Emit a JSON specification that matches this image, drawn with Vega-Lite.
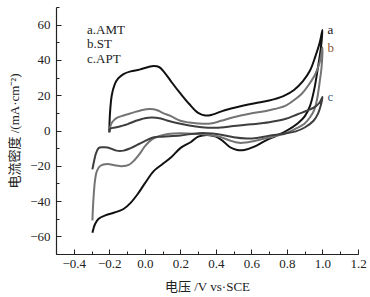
{
  "$schema": "https://vega.github.io/schema/vega-lite/v6.json",
  "width": 302,
  "height": 247,
  "autosize": {"type": "none"},
  "padding": {"left": 56, "top": 7, "right": 12, "bottom": 43},
  "background": "white",
  "config": {
    "view": {"stroke": null},
    "font": "Liberation Serif, Noto Sans CJK SC",
    "axis": {
      "domainColor": "#222",
      "domainWidth": 1.2,
      "tickColor": "#222",
      "tickWidth": 1,
      "grid": false,
      "labelFont": "Liberation Serif",
      "labelFontSize": 13,
      "labelColor": "#222",
      "labelOverlap": false,
      "labelFlush": false,
      "titleFont": "Liberation Serif, Noto Sans CJK SC",
      "titleFontSize": 13,
      "titleFontWeight": "normal",
      "titleColor": "#222"
    }
  },
  "data": {
    "values": [
      {"s": "a.AMT", "o": 1, "v": -0.2, "j": -1},
      {"s": "a.AMT", "o": 2, "v": -0.196, "j": 10},
      {"s": "a.AMT", "o": 3, "v": -0.186, "j": 20},
      {"s": "a.AMT", "o": 4, "v": -0.17, "j": 26},
      {"s": "a.AMT", "o": 5, "v": -0.15, "j": 29.5},
      {"s": "a.AMT", "o": 6, "v": -0.12, "j": 32},
      {"s": "a.AMT", "o": 7, "v": -0.08, "j": 33.5},
      {"s": "a.AMT", "o": 8, "v": -0.03, "j": 34.5},
      {"s": "a.AMT", "o": 9, "v": 0.02, "j": 36},
      {"s": "a.AMT", "o": 10, "v": 0.05, "j": 36.5},
      {"s": "a.AMT", "o": 11, "v": 0.08, "j": 36},
      {"s": "a.AMT", "o": 12, "v": 0.11, "j": 33},
      {"s": "a.AMT", "o": 13, "v": 0.15, "j": 27.5},
      {"s": "a.AMT", "o": 14, "v": 0.2, "j": 21},
      {"s": "a.AMT", "o": 15, "v": 0.25, "j": 15},
      {"s": "a.AMT", "o": 16, "v": 0.3, "j": 10},
      {"s": "a.AMT", "o": 17, "v": 0.34, "j": 8.5},
      {"s": "a.AMT", "o": 18, "v": 0.38, "j": 9},
      {"s": "a.AMT", "o": 19, "v": 0.45, "j": 11.5},
      {"s": "a.AMT", "o": 20, "v": 0.55, "j": 14},
      {"s": "a.AMT", "o": 21, "v": 0.62, "j": 15.5},
      {"s": "a.AMT", "o": 22, "v": 0.7, "j": 17},
      {"s": "a.AMT", "o": 23, "v": 0.78, "j": 19.5},
      {"s": "a.AMT", "o": 24, "v": 0.84, "j": 23},
      {"s": "a.AMT", "o": 25, "v": 0.89, "j": 28},
      {"s": "a.AMT", "o": 26, "v": 0.93, "j": 34},
      {"s": "a.AMT", "o": 27, "v": 0.96, "j": 42},
      {"s": "a.AMT", "o": 28, "v": 0.985, "j": 50},
      {"s": "a.AMT", "o": 29, "v": 1.0, "j": 57, "tag": "a"},
      {"s": "a.AMT", "o": 30, "v": 0.99, "j": 46},
      {"s": "a.AMT", "o": 31, "v": 0.975, "j": 36},
      {"s": "a.AMT", "o": 32, "v": 0.955, "j": 24},
      {"s": "a.AMT", "o": 33, "v": 0.93, "j": 14},
      {"s": "a.AMT", "o": 34, "v": 0.9, "j": 8},
      {"s": "a.AMT", "o": 35, "v": 0.86, "j": 4},
      {"s": "a.AMT", "o": 36, "v": 0.8, "j": 0},
      {"s": "a.AMT", "o": 37, "v": 0.74, "j": -3},
      {"s": "a.AMT", "o": 38, "v": 0.68, "j": -5.7},
      {"s": "a.AMT", "o": 39, "v": 0.62, "j": -9},
      {"s": "a.AMT", "o": 40, "v": 0.56, "j": -11},
      {"s": "a.AMT", "o": 41, "v": 0.52, "j": -11},
      {"s": "a.AMT", "o": 42, "v": 0.48, "j": -9.5},
      {"s": "a.AMT", "o": 43, "v": 0.44, "j": -6},
      {"s": "a.AMT", "o": 44, "v": 0.4, "j": -3.5},
      {"s": "a.AMT", "o": 45, "v": 0.35, "j": -2.5},
      {"s": "a.AMT", "o": 46, "v": 0.3, "j": -3.5},
      {"s": "a.AMT", "o": 47, "v": 0.26, "j": -6.5},
      {"s": "a.AMT", "o": 48, "v": 0.2, "j": -10},
      {"s": "a.AMT", "o": 49, "v": 0.15, "j": -15},
      {"s": "a.AMT", "o": 50, "v": 0.1, "j": -19},
      {"s": "a.AMT", "o": 51, "v": 0.05, "j": -23},
      {"s": "a.AMT", "o": 52, "v": 0.0, "j": -30},
      {"s": "a.AMT", "o": 53, "v": -0.04, "j": -36},
      {"s": "a.AMT", "o": 54, "v": -0.08, "j": -41},
      {"s": "a.AMT", "o": 55, "v": -0.12, "j": -44.5},
      {"s": "a.AMT", "o": 56, "v": -0.17, "j": -46.5},
      {"s": "a.AMT", "o": 57, "v": -0.22, "j": -48},
      {"s": "a.AMT", "o": 58, "v": -0.26, "j": -50},
      {"s": "a.AMT", "o": 59, "v": -0.28, "j": -53},
      {"s": "a.AMT", "o": 60, "v": -0.295, "j": -58},

      {"s": "b.ST", "o": 1, "v": -0.2, "j": -1},
      {"s": "b.ST", "o": 2, "v": -0.195, "j": 2},
      {"s": "b.ST", "o": 3, "v": -0.185, "j": 4.5},
      {"s": "b.ST", "o": 4, "v": -0.16, "j": 7},
      {"s": "b.ST", "o": 5, "v": -0.12, "j": 8.5},
      {"s": "b.ST", "o": 6, "v": -0.07, "j": 10},
      {"s": "b.ST", "o": 7, "v": -0.02, "j": 11.5},
      {"s": "b.ST", "o": 8, "v": 0.03, "j": 12.2},
      {"s": "b.ST", "o": 9, "v": 0.07, "j": 11.5},
      {"s": "b.ST", "o": 10, "v": 0.1, "j": 10},
      {"s": "b.ST", "o": 11, "v": 0.15, "j": 8},
      {"s": "b.ST", "o": 12, "v": 0.2, "j": 5.5},
      {"s": "b.ST", "o": 13, "v": 0.25, "j": 4.5},
      {"s": "b.ST", "o": 14, "v": 0.3, "j": 4},
      {"s": "b.ST", "o": 15, "v": 0.37, "j": 4},
      {"s": "b.ST", "o": 16, "v": 0.43, "j": 5.5},
      {"s": "b.ST", "o": 17, "v": 0.5, "j": 7.5},
      {"s": "b.ST", "o": 18, "v": 0.59, "j": 9.5},
      {"s": "b.ST", "o": 19, "v": 0.7, "j": 11.5},
      {"s": "b.ST", "o": 20, "v": 0.79, "j": 14},
      {"s": "b.ST", "o": 21, "v": 0.85, "j": 18},
      {"s": "b.ST", "o": 22, "v": 0.885, "j": 21},
      {"s": "b.ST", "o": 23, "v": 0.92, "j": 25.5},
      {"s": "b.ST", "o": 24, "v": 0.96, "j": 32},
      {"s": "b.ST", "o": 25, "v": 0.985, "j": 39},
      {"s": "b.ST", "o": 26, "v": 1.0, "j": 47, "tag": "b"},
      {"s": "b.ST", "o": 27, "v": 0.995, "j": 36},
      {"s": "b.ST", "o": 28, "v": 0.985, "j": 28},
      {"s": "b.ST", "o": 29, "v": 0.97, "j": 18},
      {"s": "b.ST", "o": 30, "v": 0.955, "j": 12},
      {"s": "b.ST", "o": 31, "v": 0.93, "j": 7.5},
      {"s": "b.ST", "o": 32, "v": 0.9, "j": 4},
      {"s": "b.ST", "o": 33, "v": 0.85, "j": 1},
      {"s": "b.ST", "o": 34, "v": 0.79, "j": -1.7},
      {"s": "b.ST", "o": 35, "v": 0.7, "j": -4},
      {"s": "b.ST", "o": 36, "v": 0.63, "j": -5.7},
      {"s": "b.ST", "o": 37, "v": 0.57, "j": -6.8},
      {"s": "b.ST", "o": 38, "v": 0.53, "j": -7},
      {"s": "b.ST", "o": 39, "v": 0.48, "j": -5.7},
      {"s": "b.ST", "o": 40, "v": 0.43, "j": -3.8},
      {"s": "b.ST", "o": 41, "v": 0.38, "j": -2.8},
      {"s": "b.ST", "o": 42, "v": 0.3, "j": -2},
      {"s": "b.ST", "o": 43, "v": 0.2, "j": -1.5},
      {"s": "b.ST", "o": 44, "v": 0.13, "j": -2},
      {"s": "b.ST", "o": 45, "v": 0.08, "j": -3.2},
      {"s": "b.ST", "o": 46, "v": 0.04, "j": -5},
      {"s": "b.ST", "o": 47, "v": 0.0, "j": -9},
      {"s": "b.ST", "o": 48, "v": -0.027, "j": -13},
      {"s": "b.ST", "o": 49, "v": -0.06, "j": -17},
      {"s": "b.ST", "o": 50, "v": -0.09, "j": -19.5},
      {"s": "b.ST", "o": 51, "v": -0.13, "j": -20.2},
      {"s": "b.ST", "o": 52, "v": -0.17, "j": -19.7},
      {"s": "b.ST", "o": 53, "v": -0.21, "j": -19},
      {"s": "b.ST", "o": 54, "v": -0.25, "j": -20},
      {"s": "b.ST", "o": 55, "v": -0.27, "j": -23},
      {"s": "b.ST", "o": 56, "v": -0.28, "j": -28},
      {"s": "b.ST", "o": 57, "v": -0.29, "j": -40},
      {"s": "b.ST", "o": 58, "v": -0.295, "j": -51},

      {"s": "c.APT", "o": 1, "v": -0.2, "j": -1},
      {"s": "c.APT", "o": 2, "v": -0.195, "j": 1},
      {"s": "c.APT", "o": 3, "v": -0.16, "j": 1.8},
      {"s": "c.APT", "o": 4, "v": -0.1, "j": 3.5},
      {"s": "c.APT", "o": 5, "v": -0.05, "j": 5.5},
      {"s": "c.APT", "o": 6, "v": 0.0, "j": 7},
      {"s": "c.APT", "o": 7, "v": 0.04, "j": 7.4},
      {"s": "c.APT", "o": 8, "v": 0.09, "j": 6.8},
      {"s": "c.APT", "o": 9, "v": 0.125, "j": 5.7},
      {"s": "c.APT", "o": 10, "v": 0.18, "j": 4.2},
      {"s": "c.APT", "o": 11, "v": 0.25, "j": 2.8},
      {"s": "c.APT", "o": 12, "v": 0.32, "j": 1.9},
      {"s": "c.APT", "o": 13, "v": 0.4, "j": 1.6},
      {"s": "c.APT", "o": 14, "v": 0.5, "j": 2.5},
      {"s": "c.APT", "o": 15, "v": 0.6, "j": 3.5},
      {"s": "c.APT", "o": 16, "v": 0.7, "j": 4.7},
      {"s": "c.APT", "o": 17, "v": 0.79, "j": 6.5},
      {"s": "c.APT", "o": 18, "v": 0.86, "j": 9.2},
      {"s": "c.APT", "o": 19, "v": 0.92, "j": 11.5},
      {"s": "c.APT", "o": 20, "v": 0.96, "j": 13.5},
      {"s": "c.APT", "o": 21, "v": 0.985, "j": 16},
      {"s": "c.APT", "o": 22, "v": 1.0, "j": 19, "tag": "c"},
      {"s": "c.APT", "o": 23, "v": 0.99, "j": 14},
      {"s": "c.APT", "o": 24, "v": 0.975, "j": 9.6},
      {"s": "c.APT", "o": 25, "v": 0.95, "j": 5.5},
      {"s": "c.APT", "o": 26, "v": 0.9, "j": 1.7},
      {"s": "c.APT", "o": 27, "v": 0.85, "j": -0.5},
      {"s": "c.APT", "o": 28, "v": 0.79, "j": -1.7},
      {"s": "c.APT", "o": 29, "v": 0.7, "j": -3},
      {"s": "c.APT", "o": 30, "v": 0.63, "j": -4.2},
      {"s": "c.APT", "o": 31, "v": 0.575, "j": -4.5},
      {"s": "c.APT", "o": 32, "v": 0.5, "j": -3.8},
      {"s": "c.APT", "o": 33, "v": 0.45, "j": -2.8},
      {"s": "c.APT", "o": 34, "v": 0.38, "j": -1.7},
      {"s": "c.APT", "o": 35, "v": 0.3, "j": -1.5},
      {"s": "c.APT", "o": 36, "v": 0.2, "j": -2.8},
      {"s": "c.APT", "o": 37, "v": 0.1, "j": -3.5},
      {"s": "c.APT", "o": 38, "v": 0.046, "j": -4},
      {"s": "c.APT", "o": 39, "v": 0.0, "j": -6},
      {"s": "c.APT", "o": 40, "v": -0.03, "j": -7.5},
      {"s": "c.APT", "o": 41, "v": -0.08, "j": -10},
      {"s": "c.APT", "o": 42, "v": -0.12, "j": -11.4},
      {"s": "c.APT", "o": 43, "v": -0.16, "j": -11.4},
      {"s": "c.APT", "o": 44, "v": -0.21, "j": -9.6},
      {"s": "c.APT", "o": 45, "v": -0.24, "j": -9.5},
      {"s": "c.APT", "o": 46, "v": -0.26, "j": -10},
      {"s": "c.APT", "o": 47, "v": -0.275, "j": -13},
      {"s": "c.APT", "o": 48, "v": -0.285, "j": -17},
      {"s": "c.APT", "o": 49, "v": -0.295, "j": -22}
    ]
  },
  "layer": [
    {
      "mark": {"type": "line", "interpolate": "catmull-rom", "strokeWidth": 2},
      "encoding": {
        "x": {
          "field": "v", "type": "quantitative",
          "scale": {"domain": [-0.5, 1.2], "nice": false, "zero": false},
          "axis": {
            "orient": "bottom",
            "title": "电压 /V vs·SCE",
            "values": [-0.4, -0.2, 0, 0.2, 0.4, 0.6, 0.8, 1.0, 1.2],
            "format": ".1f",
            "tickSize": -5,
            "labelPadding": 8,
            "titleX": 151,
            "titleY": 32,
            "titleBaseline": "middle",
            "titleAlign": "center"
          }
        },
        "y": {
          "field": "j", "type": "quantitative",
          "scale": {"domain": [-70, 70], "nice": false, "zero": false},
          "axis": {
            "orient": "left",
            "title": "电流密度 /(mA·cm⁻²)",
            "values": [-60, -40, -20, 0, 20, 40, 60],
            "tickSize": -5,
            "labelPadding": 11,
            "titleX": -42,
            "titleY": 123.5,
            "titleAngle": -90,
            "titleBaseline": "middle",
            "titleAlign": "center"
          }
        },
        "order": {"field": "o", "type": "quantitative"},
        "color": {
          "field": "s", "type": "nominal",
          "scale": {"domain": ["a.AMT", "b.ST", "c.APT"], "range": ["#111111", "#747474", "#3e3e3e"]},
          "legend": {
            "title": null,
            "orient": "none",
            "legendX": 18,
            "legendY": 16,
            "symbolSize": 0,
            "symbolStrokeWidth": 0,
            "symbolOpacity": 0,
            "labelOffset": 0,
            "labelFont": "Liberation Serif",
            "labelFontSize": 13,
            "labelColor": "#222",
            "rowPadding": 0.5
          }
        }
      }
    },
    {
      "mark": {"type": "point", "opacity": 0},
      "encoding": {
        "x": {
          "field": "v", "type": "quantitative",
          "axis": {
            "orient": "bottom",
            "title": null,
            "values": [-0.5, -0.3, -0.1, 0.1, 0.3, 0.5, 0.7, 0.9, 1.1],
            "labels": false,
            "domain": false,
            "tickSize": -3
          }
        },
        "y": {
          "field": "j", "type": "quantitative",
          "axis": {
            "orient": "left",
            "title": null,
            "values": [-70, -50, -30, -10, 10, 30, 50, 70],
            "labels": false,
            "domain": false,
            "tickSize": -3
          }
        }
      }
    },
    {
      "transform": [{"filter": "datum.tag"}],
      "mark": {"type": "text", "align": "left", "baseline": "middle", "dx": 5, "dy": 0, "font": "Liberation Serif", "fontSize": 13},
      "encoding": {
        "x": {"field": "v", "type": "quantitative", "axis": null},
        "y": {"field": "j", "type": "quantitative", "axis": null},
        "text": {"field": "tag"},
        "color": {
          "field": "tag", "type": "nominal",
          "scale": {"domain": ["a", "b", "c"], "range": ["#111111", "#8f5530", "#3f5a80"]},
          "legend": null
        }
      }
    }
  ],
  "resolve": {"scale": {"color": "independent"}, "axis": {"x": "independent", "y": "independent"}}
}
